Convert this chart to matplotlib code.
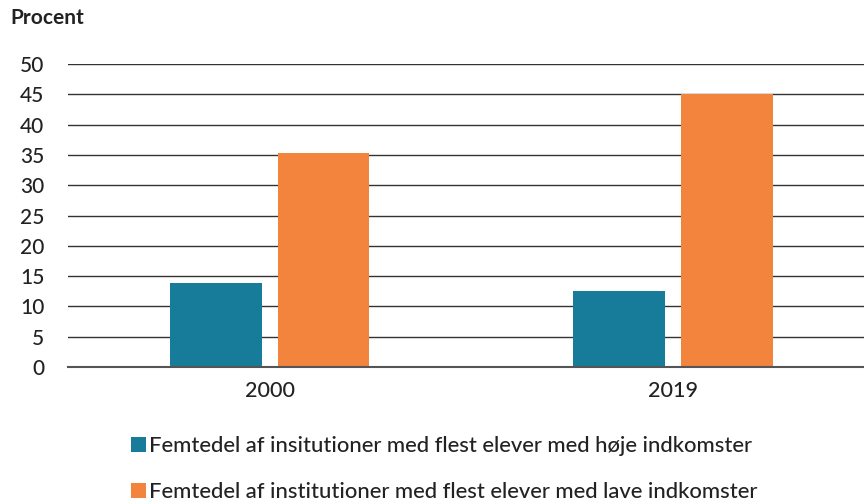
import numpy as np
import matplotlib
matplotlib.use("Agg")
import matplotlib.pyplot as plt

YEARS = ["2000", "2019"]
HIGH = [13.8, 12.5]
LOW = [35.3, 45.0]
LABEL_HIGH = "Femtedel af insitutioner med flest elever med høje indkomster"
LABEL_LOW = "Femtedel af institutioner med flest elever med lave indkomster"
YTICKS = list(range(0, 55, 5))

TEAL = "#167C9A"
ORANGE = "#F3843D"

plt.rcParams.update({"font.family": ["Lato", "DejaVu Sans"]})

fig = plt.figure(figsize=(8.64, 5.01), dpi=100)
ax = fig.add_axes([68 / 864, 1 - 367 / 501, 1 - 68 / 864, (367 - 64) / 501])

x = np.arange(len(YEARS))
w = 0.228
b1 = ax.bar(x - 0.133, HIGH, w, color=TEAL, label=LABEL_HIGH, zorder=3)
b2 = ax.bar(x + 0.133, LOW, w, color=ORANGE, label=LABEL_LOW, zorder=3)

ax.set_ylim(0, 50)
ax.set_xlim(-0.501, 1.474)
ax.set_yticks(YTICKS)
ax.set_xticks(x)
ax.set_xticklabels(YEARS)
ax.tick_params(axis="both", length=0, colors="#222222")
ax.tick_params(axis="y", pad=17, labelsize=15)
ax.tick_params(axis="x", pad=10, labelsize=15.5)
for t in ax.get_yticklabels() + ax.get_xticklabels():
    t.set_fontweight("medium")
for s in ("top", "right", "left"):
    ax.spines[s].set_visible(False)
ax.spines["bottom"].set_color("#555555")
ax.spines["bottom"].set_linewidth(1.5)
ax.spines["bottom"].set_zorder(4)
ax.yaxis.grid(True, color="#333333", lw=1.0, zorder=1)
ax.set_axisbelow(True)

fig.text(10 / 864, 1 - 18 / 501, "Procent", fontsize=15, fontweight="bold",
         color="#222222", va="center", ha="left")

leg = fig.legend(handles=[b1, b2], loc="upper left",
                 bbox_to_anchor=(131 / 864, 1 - 436 / 501), frameon=False,
                 fontsize=15.8, handlelength=0.7, handleheight=0.7,
                 handletextpad=0.1, labelspacing=1.18, borderaxespad=0,
                 borderpad=0)
for t in leg.get_texts():
    t.set_fontweight("medium")
    t.set_color("#222222")

fig.savefig("out.png", dpi=100)
